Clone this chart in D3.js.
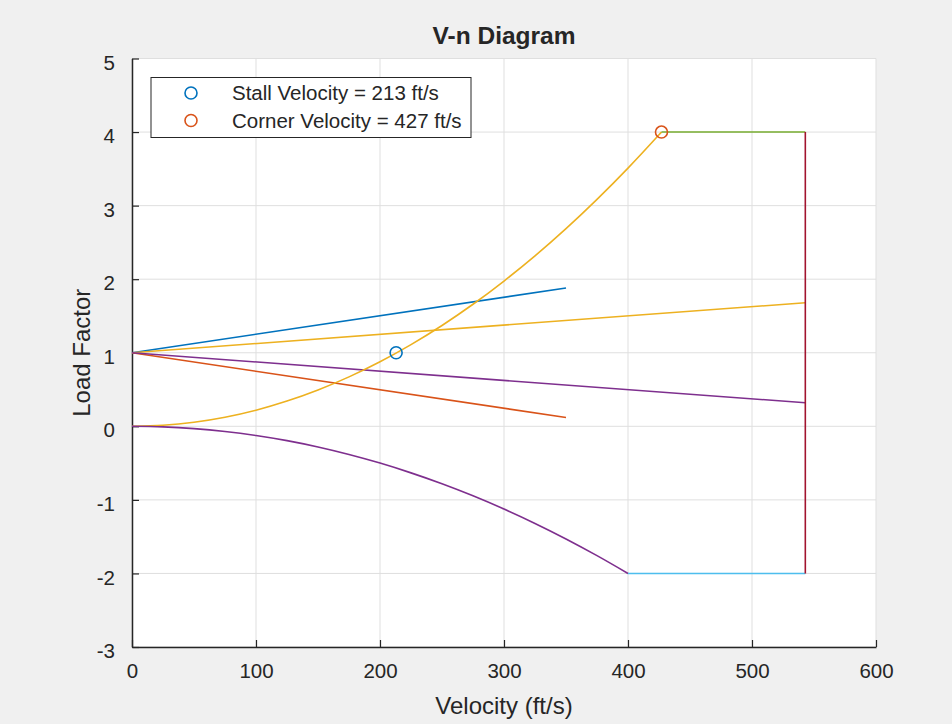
<!DOCTYPE html>
<html>
<head>
<meta charset="utf-8">
<script src="https://cdn.jsdelivr.net/npm/d3@7"></script>
<style>
  html, body { margin: 0; padding: 0; background: #f0f0f0; }
  svg { display: block; }
  text { font-family: "Liberation Sans", Arial, Helvetica, sans-serif; fill: #262626; }
</style>
</head>
<body>
<svg id="chart" width="952" height="724"></svg>
<script>
// ---------------- data ----------------
const xTicks = [0, 100, 200, 300, 400, 500, 600];
const yTicks = [-3, -2, -1, 0, 1, 2, 3, 4, 5];

// gust lines (velocity ft/s, load factor)
const gustPos1 = [[0, 1], [350, 1.88]];
const gustNeg1 = [[0, 1], [350, 0.12]];
const gustPos2 = [[0, 1], [543, 1.68]];
const gustNeg2 = [[0, 1], [543, 0.32]];

// positive stall curve
const stallPosV = [0, 25, 50, 75, 100, 125, 150, 175, 200, 225, 250, 275, 300, 325, 350, 375, 400, 425, 427];
const stallPosN = [0, 0.014, 0.055, 0.123, 0.219, 0.343, 0.494, 0.672, 0.878, 1.111, 1.371, 1.659, 1.975, 2.317, 2.687, 3.085, 3.510, 3.963, 4.0];

// negative stall curve
const stallNegV = [0, 25, 50, 75, 100, 125, 150, 175, 200, 225, 250, 275, 300, 325, 350, 375, 400];
const stallNegN = [0, -0.008, -0.031, -0.070, -0.125, -0.195, -0.281, -0.383, -0.5, -0.633, -0.781, -0.945, -1.125, -1.320, -1.531, -1.758, -2.0];

const posLimit = [[427, 4], [543, 4]];
const negLimit = [[400, -2], [543, -2]];
const diveLimit = [[543, -2], [543, 4]];

const stallPoint = [213, 1];
const cornerPoint = [427, 4];
const legendLabels = ["Stall Velocity = 213 ft/s", "Corner Velocity = 427 ft/s"];

const colors = {
  blue: "#0072BD", orange: "#D95319", yellow: "#EDB120", purple: "#7E2F8E",
  green: "#77AC30", cyan: "#4DBEEE", red: "#A2142F"
};

// ---------------- layout ----------------
const svg = d3.select("#chart");
const L = 132, R = 876, T = 58.5, B = 647;
const x = d3.scaleLinear().domain([0, 600]).range([L, R]);
const y = d3.scaleLinear().domain([-3, 5]).range([B, T]);

// axes background
svg.append("rect").attr("x", L).attr("y", T).attr("width", R - L).attr("height", B - T).attr("fill", "#ffffff");

// grid
const grid = svg.append("g").attr("stroke", "#dfdfdf").attr("stroke-width", 1);
xTicks.forEach(t => grid.append("line").attr("x1", x(t)).attr("x2", x(t)).attr("y1", T).attr("y2", B));
yTicks.forEach(t => grid.append("line").attr("x1", L).attr("x2", R).attr("y1", y(t)).attr("y2", y(t)));

// axes
const fmt = d => String(d);
const xAxis = d3.axisBottom(x).tickValues(xTicks).tickFormat(fmt).tickSizeInner(-7).tickSizeOuter(0).tickPadding(16);
const yAxis = d3.axisLeft(y).tickValues(yTicks).tickFormat(fmt).tickSizeInner(-7).tickSizeOuter(0).tickPadding(17);
const gx = svg.append("g").attr("transform", `translate(0,${B})`).call(xAxis);
const gy = svg.append("g").attr("transform", `translate(${L},0)`).call(yAxis);
[gx, gy].forEach(g => {
  g.select(".domain").attr("stroke", "#262626").attr("stroke-width", 1.5);
  g.selectAll(".tick line").attr("stroke", "#262626").attr("stroke-width", 1.2);
  g.selectAll(".tick text").attr("fill", "#262626").style("font-size", "20.5px")
    .style("font-family", '"Liberation Sans", Arial, sans-serif');
});
gx.selectAll(".tick text").attr("dy", "0.71em");
gy.selectAll(".tick text").attr("dy", "0.52em");

// lines
const line = d3.line().x(d => x(d[0])).y(d => y(d[1]));
const curve = d3.line().x(d => x(d[0])).y(d => y(d[1])).curve(d3.curveMonotoneX);
const plot = svg.append("g").attr("fill", "none").attr("stroke-width", 1.6);

plot.append("path").attr("d", line(gustPos1)).attr("stroke", colors.blue);
plot.append("path").attr("d", line(gustNeg1)).attr("stroke", colors.orange);
plot.append("path").attr("d", line(gustPos2)).attr("stroke", colors.yellow);
plot.append("path").attr("d", line(gustNeg2)).attr("stroke", colors.purple);
plot.append("path").attr("d", curve(stallPosV.map((v, i) => [v, stallPosN[i]]))).attr("stroke", colors.yellow);
plot.append("path").attr("d", curve(stallNegV.map((v, i) => [v, stallNegN[i]]))).attr("stroke", colors.purple);
plot.append("path").attr("d", line(posLimit)).attr("stroke", colors.green);
plot.append("path").attr("d", line(negLimit)).attr("stroke", colors.cyan);
plot.append("path").attr("d", line(diveLimit)).attr("stroke", colors.red);

// markers
svg.append("circle").attr("cx", x(stallPoint[0])).attr("cy", y(stallPoint[1])).attr("r", 6)
  .attr("fill", "none").attr("stroke", colors.blue).attr("stroke-width", 1.6);
svg.append("circle").attr("cx", x(cornerPoint[0])).attr("cy", y(cornerPoint[1])).attr("r", 6)
  .attr("fill", "none").attr("stroke", colors.orange).attr("stroke-width", 1.6);

// legend
const lg = svg.append("g");
lg.append("rect").attr("x", 151).attr("y", 77.5).attr("width", 320).attr("height", 60)
  .attr("fill", "#ffffff").attr("stroke", "#262626").attr("stroke-width", 1);
const legColors = [colors.blue, colors.orange];
legendLabels.forEach((lab, i) => {
  const cy = 93 + i * 27.5;
  lg.append("circle").attr("cx", 191).attr("cy", cy).attr("r", 6)
    .attr("fill", "none").attr("stroke", legColors[i]).attr("stroke-width", 1.6);
  lg.append("text").attr("x", 232).attr("y", cy).attr("dy", "0.36em")
    .style("font-size", "20.5px").text(lab);
});

// title and labels
svg.append("text").attr("x", (L + R) / 2).attr("y", 44).attr("text-anchor", "middle")
  .style("font-size", "24.5px").style("font-weight", "bold").attr("fill", "#000").text("V-n Diagram");
svg.append("text").attr("x", (L + R) / 2).attr("y", 714).attr("text-anchor", "middle")
  .style("font-size", "24px").text("Velocity (ft/s)");
svg.append("text").attr("transform", `translate(90,${(T + B) / 2}) rotate(-90)`).attr("text-anchor", "middle")
  .style("font-size", "24px").text("Load Factor");
</script>
</body>
</html>
